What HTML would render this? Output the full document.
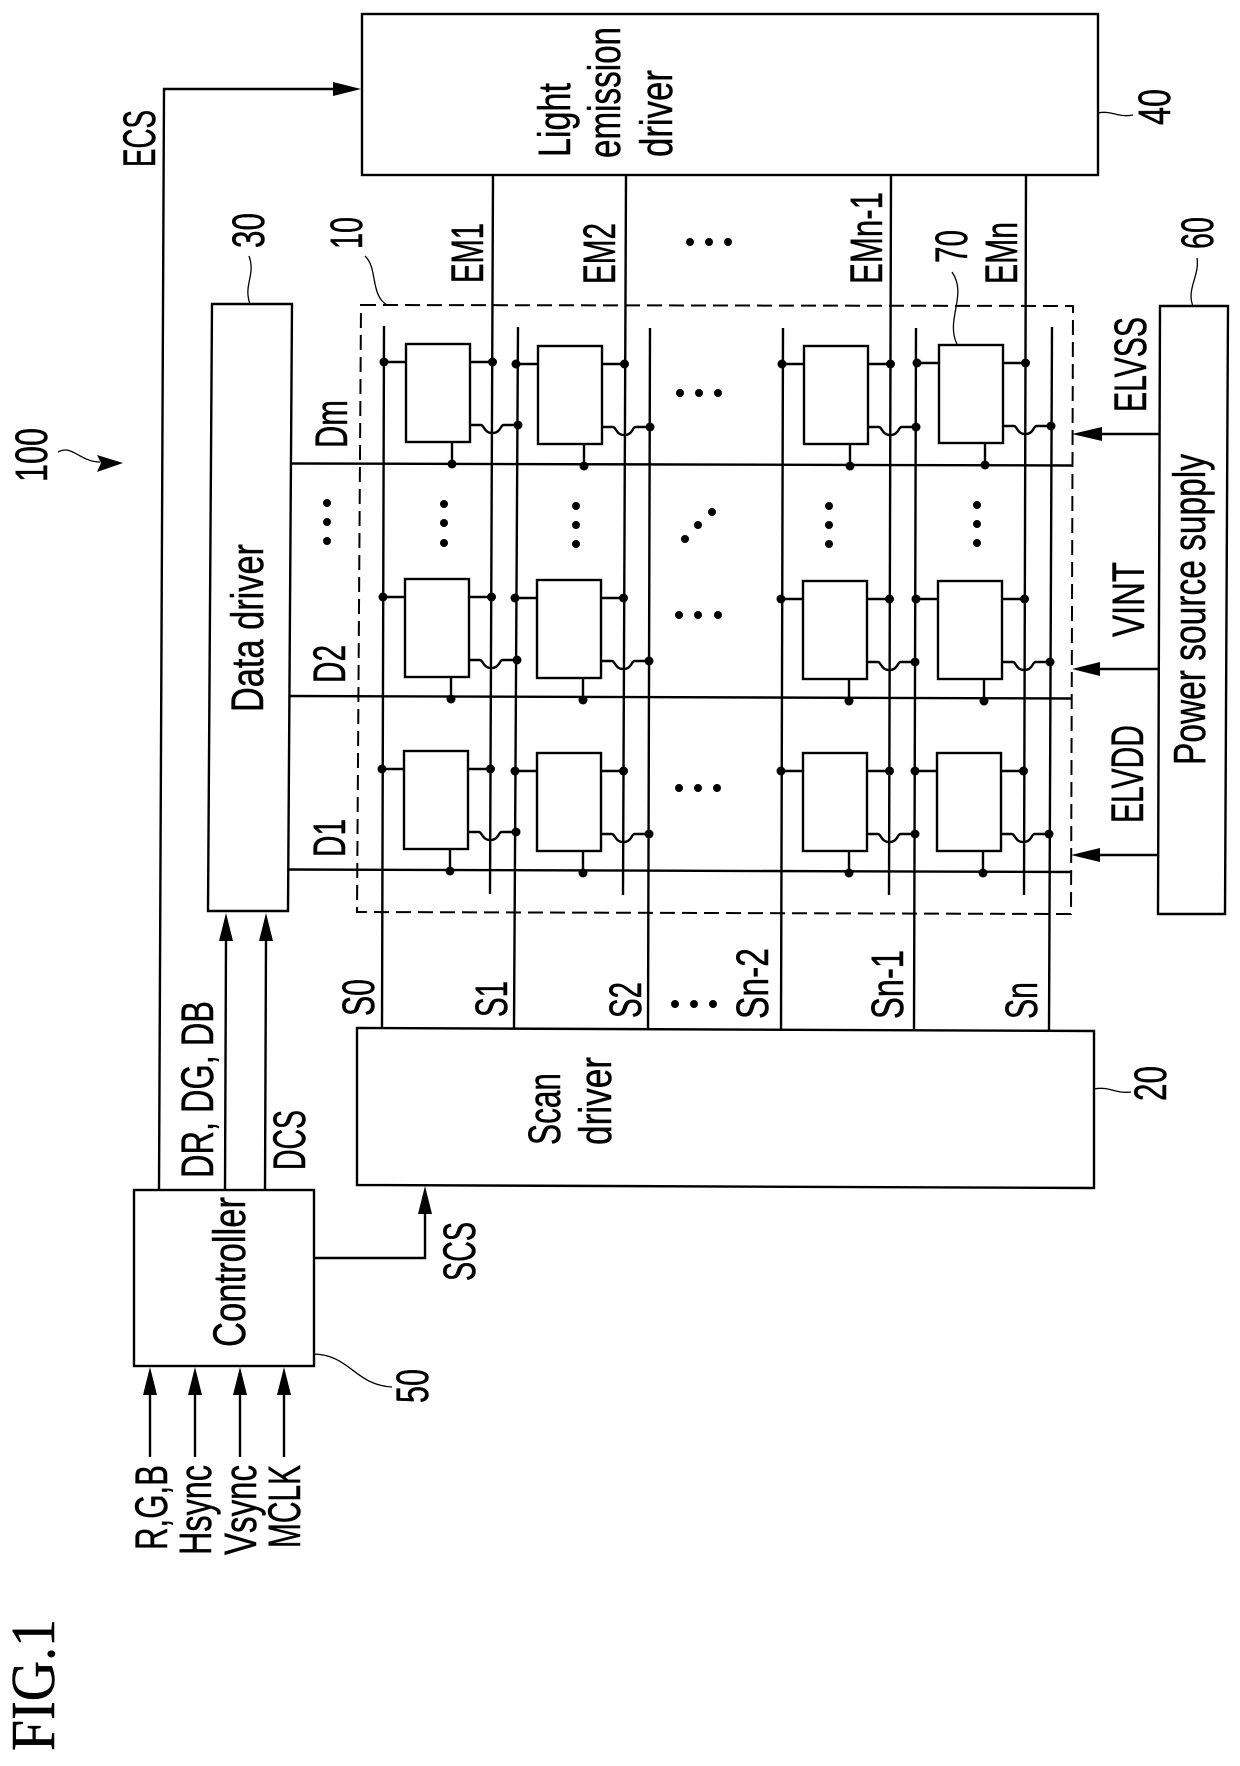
<!DOCTYPE html>
<html><head><meta charset="utf-8"><style>
html,body{margin:0;padding:0;background:#fff}
svg{display:block}
text{font-family:"Liberation Sans",sans-serif;font-size:45px;fill:#000;stroke:#000;stroke-width:.5}
.f{font-family:"Liberation Serif",serif;font-size:62px}
.l{fill:none;stroke:#000;stroke-width:2.4}
.t{fill:none;stroke:#000;stroke-width:1.3}
.b{fill:#fff;stroke:#000;stroke-width:2.4}
</style></head><body>
<svg xmlns="http://www.w3.org/2000/svg" width="1240" height="1766" viewBox="0 0 1240 1766">
<defs>
<g id="c">
<rect class="b" x="0" y="0" width="64" height="98"/>
<path class="l" d="M-22,18H0M64,18H86.5M46,98V120"/>
<path class="l" d="M64,81H75c3,0 3,8 11.500,8c8,0 8,-8 11,-8H112"/>
<circle cx="-22" cy="18" r="4.500"/><circle cx="86.500" cy="18" r="4.500"/><circle cx="112" cy="81" r="4.500"/><circle cx="46" cy="120" r="4.500"/>
</g>
<path id="au" d="M0,0L-7,28H7Z"/>
</defs>

<!-- dashed panel -->
<path d="M361,305L1073,306L1071,914L357,912Z" fill="none" stroke="#000" stroke-width="2" stroke-dasharray="15 7"/>

<!-- blocks -->
<rect class="b" x="362" y="14" width="736" height="161"/>
<polygon class="b" points="357,1028 1094,1031 1094,1188 357,1185"/>
<polygon class="b" points="212,304 292,304 288,911 208,911"/>
<rect class="b" x="134" y="1190" width="180" height="176"/>
<polygon class="b" points="1160,306 1228,306 1225,914 1158,914"/>

<!-- scan lines -->
<path class="l" d="M384,326L382,1028M518,327L514,1029M650,328L648,1030M783,328L781,1031M916,328L914,1031M1052,327L1049,1031"/>
<!-- emission lines -->
<path class="l" d="M493,175L490,894M626,176L623,895M891,176L889,895M1026,176L1024,895"/>
<!-- data lines -->
<path class="l" d="M292,463.500L1072,465.500M290,696L1072,698.500M288,869.500L1072,872"/>

<!-- pixel cells -->
<use href="#c" x="406" y="344"/><use href="#c" x="538" y="346"/><use href="#c" x="804" y="346"/><use href="#c" x="939" y="345"/>
<use href="#c" x="405" y="579"/><use href="#c" x="537" y="580"/><use href="#c" x="803" y="581"/><use href="#c" x="938" y="581"/>
<use href="#c" x="404" y="751"/><use href="#c" x="537" y="753"/><use href="#c" x="803" y="753"/><use href="#c" x="937" y="753"/>

<!-- signal connectors -->
<path class="l" d="M159,1190L164,89H335"/>
<polygon points="361,89 333,82 333,96"/>
<path class="l" d="M225,1190L226,940M265,1190L266,940"/>
<use href="#au" x="226" y="913"/><use href="#au" x="266" y="913"/>
<path class="l" d="M314,1258H425V1212"/>
<use href="#au" x="425" y="1186"/>
<path class="l" d="M150,1457V1392M195,1457V1392M240,1457V1392M284,1457V1392"/>
<use href="#au" x="150" y="1367"/><use href="#au" x="195" y="1367"/><use href="#au" x="240" y="1367"/><use href="#au" x="284" y="1367"/>
<path class="l" d="M1160,434H1100M1158,669H1098M1158,855H1098"/>
<polygon points="1072,434 1102,427 1102,441"/>
<polygon points="1072,669 1100,662 1100,676"/>
<polygon points="1071,855 1100,848 1100,862"/>

<!-- reference leaders -->
<path class="t" d="M249,256C256,275 243,285 250,304"/>
<path class="t" d="M365,256C378,268 370,295 387,305"/>
<path class="t" d="M952,272C968,295 945,320 957,344"/>
<path class="t" d="M1098,113C1112,110 1118,118 1133,115"/>
<path class="t" d="M1197,258C1200,275 1186,290 1193,306"/>
<path class="t" d="M1094,1089C1110,1086 1115,1094 1131,1092"/>
<path class="t" d="M314,1354C350,1355 355,1385 392,1387"/>
<path class="t" d="M58,452C72,444 80,462 100,462"/>
<polygon points="123,463 97,455 101,463 97,472"/>

<!-- dots -->
<g>
<circle cx="690" cy="242" r="4"/><circle cx="709" cy="242" r="4"/><circle cx="728" cy="242" r="4"/>
<circle cx="680" cy="393" r="4"/><circle cx="699" cy="393" r="4"/><circle cx="718" cy="393" r="4"/>
<circle cx="679" cy="615" r="4"/><circle cx="698" cy="615" r="4"/><circle cx="718" cy="615" r="4"/>
<circle cx="679" cy="788" r="4"/><circle cx="698" cy="788" r="4"/><circle cx="717" cy="788" r="4"/>
<circle cx="444" cy="504" r="4"/><circle cx="444" cy="523" r="4"/><circle cx="444" cy="543" r="4"/>
<circle cx="576" cy="506" r="4"/><circle cx="576" cy="525" r="4"/><circle cx="576" cy="544" r="4"/>
<circle cx="829" cy="506" r="4"/><circle cx="829" cy="525" r="4"/><circle cx="829" cy="544" r="4"/>
<circle cx="977" cy="505" r="4"/><circle cx="977" cy="524" r="4"/><circle cx="977" cy="543" r="4"/>
<circle cx="685" cy="539" r="4"/><circle cx="698" cy="525" r="4"/><circle cx="712" cy="512" r="4"/>
<circle cx="675" cy="1004" r="4"/><circle cx="694" cy="1004" r="4"/><circle cx="713" cy="1004" r="4"/>
<circle cx="327" cy="503" r="4"/><circle cx="327" cy="522" r="4"/><circle cx="327" cy="541" r="4"/>
</g>

<!-- labels -->
<text class="f" transform="translate(54,1751) rotate(-90)" textLength="132" lengthAdjust="spacingAndGlyphs">FIG.1</text>
<text transform="translate(47,482) rotate(-90)" textLength="54" lengthAdjust="spacingAndGlyphs">100</text>
<text transform="translate(155,167) rotate(-90)" textLength="57" lengthAdjust="spacingAndGlyphs">ECS</text>
<text transform="translate(264,248) rotate(-90)" textLength="35" lengthAdjust="spacingAndGlyphs">30</text>
<text transform="translate(362,249) rotate(-90)" textLength="32" lengthAdjust="spacingAndGlyphs">10</text>
<text transform="translate(483,283) rotate(-90)" textLength="60" lengthAdjust="spacingAndGlyphs">EM1</text>
<text transform="translate(615,284) rotate(-90)" textLength="61" lengthAdjust="spacingAndGlyphs">EM2</text>
<text transform="translate(882,284) rotate(-90)" textLength="92" lengthAdjust="spacingAndGlyphs">EMn-1</text>
<text transform="translate(1017,284) rotate(-90)" textLength="62" lengthAdjust="spacingAndGlyphs">EMn</text>
<text transform="translate(967,263) rotate(-90)" textLength="33" lengthAdjust="spacingAndGlyphs">70</text>
<text transform="translate(1170,125) rotate(-90)" textLength="36" lengthAdjust="spacingAndGlyphs">40</text>
<text transform="translate(1213,249) rotate(-90)" textLength="32" lengthAdjust="spacingAndGlyphs">60</text>
<text transform="translate(570,157) rotate(-90)" textLength="74" lengthAdjust="spacingAndGlyphs">Light</text>
<text transform="translate(620,158) rotate(-90)" textLength="131" lengthAdjust="spacingAndGlyphs">emission</text>
<text transform="translate(672,157) rotate(-90)" textLength="87" lengthAdjust="spacingAndGlyphs">driver</text>
<text transform="translate(347,448) rotate(-90)" textLength="48" lengthAdjust="spacingAndGlyphs">Dm</text>
<text transform="translate(345,683) rotate(-90)" textLength="38" lengthAdjust="spacingAndGlyphs">D2</text>
<text transform="translate(345,857) rotate(-90)" textLength="38" lengthAdjust="spacingAndGlyphs">D1</text>
<text transform="translate(263,712) rotate(-90)" textLength="168" lengthAdjust="spacingAndGlyphs">Data driver</text>
<text transform="translate(1146,412) rotate(-90)" textLength="95" lengthAdjust="spacingAndGlyphs">ELVSS</text>
<text transform="translate(1144,637) rotate(-90)" textLength="75" lengthAdjust="spacingAndGlyphs">VINT</text>
<text transform="translate(1143,823) rotate(-90)" textLength="98" lengthAdjust="spacingAndGlyphs">ELVDD</text>
<text transform="translate(1205,765) rotate(-90)" textLength="311" lengthAdjust="spacingAndGlyphs">Power source supply</text>
<text transform="translate(213,1178) rotate(-90)" textLength="177" lengthAdjust="spacingAndGlyphs">DR, DG, DB</text>
<text transform="translate(305,1170) rotate(-90)" textLength="60" lengthAdjust="spacingAndGlyphs">DCS</text>
<text transform="translate(374,1016) rotate(-90)" textLength="37" lengthAdjust="spacingAndGlyphs">S0</text>
<text transform="translate(507,1017) rotate(-90)" textLength="36" lengthAdjust="spacingAndGlyphs">S1</text>
<text transform="translate(641,1018) rotate(-90)" textLength="36" lengthAdjust="spacingAndGlyphs">S2</text>
<text transform="translate(768,1019) rotate(-90)" textLength="71" lengthAdjust="spacingAndGlyphs">Sn-2</text>
<text transform="translate(903,1019) rotate(-90)" textLength="69" lengthAdjust="spacingAndGlyphs">Sn-1</text>
<text transform="translate(1037,1019) rotate(-90)" textLength="37" lengthAdjust="spacingAndGlyphs">Sn</text>
<text transform="translate(560,1145) rotate(-90)" textLength="72" lengthAdjust="spacingAndGlyphs">Scan</text>
<text transform="translate(611,1145) rotate(-90)" textLength="88" lengthAdjust="spacingAndGlyphs">driver</text>
<text transform="translate(1166,1101) rotate(-90)" textLength="35" lengthAdjust="spacingAndGlyphs">20</text>
<text transform="translate(245,1347) rotate(-90)" textLength="150" lengthAdjust="spacingAndGlyphs">Controller</text>
<text transform="translate(475,1281) rotate(-90)" textLength="59" lengthAdjust="spacingAndGlyphs">SCS</text>
<text transform="translate(428,1403) rotate(-90)" textLength="34" lengthAdjust="spacingAndGlyphs">50</text>
<text transform="translate(167,1550) rotate(-90)" textLength="85" lengthAdjust="spacingAndGlyphs">R,G,B</text>
<text transform="translate(211,1555) rotate(-90)" textLength="90" lengthAdjust="spacingAndGlyphs">Hsync</text>
<text transform="translate(256,1555) rotate(-90)" textLength="90" lengthAdjust="spacingAndGlyphs">Vsync</text>
<text transform="translate(300,1548) rotate(-90)" textLength="83" lengthAdjust="spacingAndGlyphs">MCLK</text>
</svg>
</body></html>
